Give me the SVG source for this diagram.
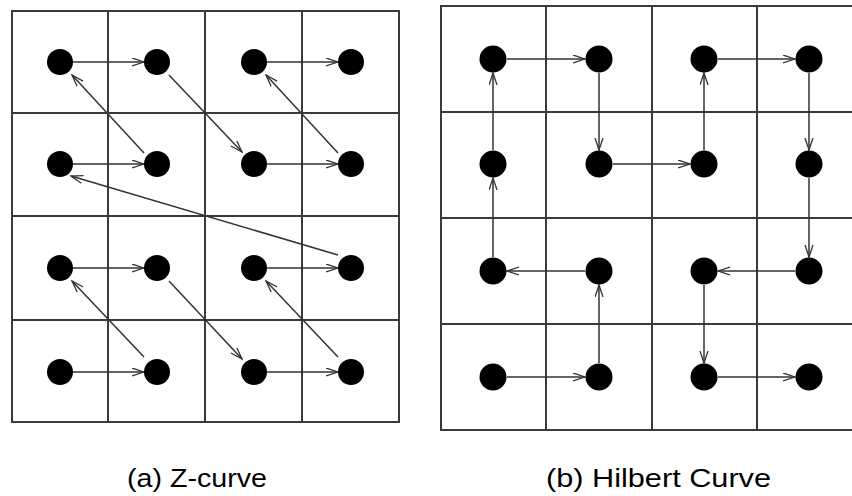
<svg xmlns="http://www.w3.org/2000/svg" width="852" height="496" viewBox="0 0 852 496">
<defs>
<marker id="ah" markerUnits="userSpaceOnUse" markerWidth="14" markerHeight="10" refX="12" refY="4.5" orient="auto">
<path d="M0,0.5 L12,4.5 L0,8.5" fill="none" stroke="#333" stroke-width="1.3"/>
</marker>
</defs>
<style>
.grid{fill:none;stroke:#3a3a3a;stroke-width:2}
.c{stroke:#333;stroke-width:1.5;fill:none;marker-end:url(#ah)}
.d{fill:#000}
.lbl{font-family:"Liberation Sans",Arial,sans-serif;font-size:25px;fill:#000}
</style>
<rect width="852" height="496" fill="#fff"/>
<g id="grid-a" class="grid">
<rect x="12" y="11" width="387" height="411"/>
<path d="M108,11V422M205,11V422M302,11V422M12,113H399M12,216H399M12,320H399"/>
</g>
<g id="grid-b" class="grid">
<rect x="441" y="6" width="421" height="424"/>
<path d="M546,6V430M652,6V430M757,6V430M441,112H862M441,218H862M441,324H862"/>
</g>
<g id="connectors">
<path class="c" d="M73,62H144"/><path class="c" d="M73,164H144"/><path class="c" d="M73,268H144"/><path class="c" d="M73,372H144"/>
<path class="c" d="M267,62H338"/><path class="c" d="M267,164H338"/><path class="c" d="M267,268H338"/><path class="c" d="M267,372H338"/>
<path class="c" d="M144,153L72,75"/><path class="c" d="M338,153L266,75"/><path class="c" d="M144,357L72,281"/><path class="c" d="M338,357L266,281"/>
<path class="c" d="M169,75L242,152"/><path class="c" d="M169,281L242,359"/>
<path class="c" d="M338,255L71,176"/>
<path class="c" d="M507,377H585"/>
<path class="c" d="M599,363V285"/>
<path class="c" d="M585,271H507"/>
<path class="c" d="M493,257V178"/>
<path class="c" d="M493,150V73"/>
<path class="c" d="M507,59H585"/>
<path class="c" d="M599,73V150"/>
<path class="c" d="M613,164H690"/>
<path class="c" d="M704,150V73"/>
<path class="c" d="M718,59H795"/>
<path class="c" d="M809,73V150"/>
<path class="c" d="M809,178V257"/>
<path class="c" d="M795,271H718"/>
<path class="c" d="M704,285V363"/>
<path class="c" d="M718,377H795"/>
</g>
<g id="z-nodes">
<g id="z00"><circle class="d" cx="60" cy="62" r="13"/></g>
<g id="z01"><circle class="d" cx="157" cy="62" r="13"/></g>
<g id="z02"><circle class="d" cx="254" cy="62" r="13"/></g>
<g id="z03"><circle class="d" cx="351" cy="62" r="13"/></g>
<g id="z10"><circle class="d" cx="60" cy="164" r="13"/></g>
<g id="z11"><circle class="d" cx="157" cy="164" r="13"/></g>
<g id="z12"><circle class="d" cx="254" cy="164" r="13"/></g>
<g id="z13"><circle class="d" cx="351" cy="164" r="13"/></g>
<g id="z20"><circle class="d" cx="60" cy="268" r="13"/></g>
<g id="z21"><circle class="d" cx="157" cy="268" r="13"/></g>
<g id="z22"><circle class="d" cx="254" cy="268" r="13"/></g>
<g id="z23"><circle class="d" cx="351" cy="268" r="13"/></g>
<g id="z30"><circle class="d" cx="60" cy="372" r="13"/></g>
<g id="z31"><circle class="d" cx="157" cy="372" r="13"/></g>
<g id="z32"><circle class="d" cx="254" cy="372" r="13"/></g>
<g id="z33"><circle class="d" cx="351" cy="372" r="13"/></g>
</g>
<g id="h-nodes">
<g id="h00"><circle class="d" cx="493" cy="59" r="13.5"/></g>
<g id="h01"><circle class="d" cx="599" cy="59" r="13.5"/></g>
<g id="h02"><circle class="d" cx="704" cy="59" r="13.5"/></g>
<g id="h03"><circle class="d" cx="809" cy="59" r="13.5"/></g>
<g id="h10"><circle class="d" cx="493" cy="164" r="13.5"/></g>
<g id="h11"><circle class="d" cx="599" cy="164" r="13.5"/></g>
<g id="h12"><circle class="d" cx="704" cy="164" r="13.5"/></g>
<g id="h13"><circle class="d" cx="809" cy="164" r="13.5"/></g>
<g id="h20"><circle class="d" cx="493" cy="271" r="13.5"/></g>
<g id="h21"><circle class="d" cx="599" cy="271" r="13.5"/></g>
<g id="h22"><circle class="d" cx="704" cy="271" r="13.5"/></g>
<g id="h23"><circle class="d" cx="809" cy="271" r="13.5"/></g>
<g id="h30"><circle class="d" cx="493" cy="377" r="13.5"/></g>
<g id="h31"><circle class="d" cx="599" cy="377" r="13.5"/></g>
<g id="h32"><circle class="d" cx="704" cy="377" r="13.5"/></g>
<g id="h33"><circle class="d" cx="809" cy="377" r="13.5"/></g>
</g>
<g id="labels">
<text class="lbl" x="127" y="487" textLength="140" lengthAdjust="spacingAndGlyphs">(a) Z-curve</text>
<text class="lbl" x="546" y="487" textLength="225" lengthAdjust="spacingAndGlyphs">(b) Hilbert Curve</text>
</g>
</svg>
